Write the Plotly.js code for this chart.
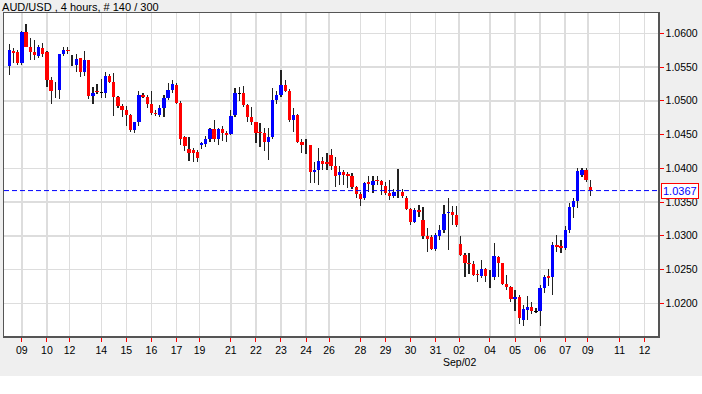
<!DOCTYPE html>
<html>
<head>
<meta charset="utf-8">
<script src="https://cdn.plot.ly/plotly-3.0.1.min.js"></script>
<style>
  html, body { margin: 0; padding: 0; background: #ffffff; }
  #chart { width: 702px; height: 376px; }
</style>
</head>
<body>
<div id="chart"></div>
<script>
// ---- Data (AUD/USD, 4-hour bars) ----
const openP = [
  1.0551,1.0574,1.0573,1.0556,1.0602,1.0580,1.0573,1.0566,1.0578,1.0573,
  1.0531,1.0514,1.0516,1.0569,1.0576,1.0555,1.0553,1.0563,1.0542,1.0561,
  1.0507,1.0514,1.0512,1.0512,1.0537,1.0528,1.0506,1.0492,1.0486,1.0479,
  1.0457,1.0469,1.0509,1.0505,1.0495,1.0482,1.0479,1.0490,1.0504,1.0516,
  1.0523,1.0497,1.0446,1.0428,1.0427,1.0424,1.0434,1.0436,1.0444,1.0458,
  1.0444,1.0458,1.0453,1.0451,1.0479,1.0511,1.0512,1.0494,1.0476,1.0468,
  1.0454,1.0453,1.0439,1.0446,1.0501,1.0509,1.0523,1.0515,1.0472,1.0479,
  1.0439,1.0434,1.0435,1.0394,1.0397,1.0411,1.0410,1.0420,1.0403,1.0390,
  1.0395,1.0392,1.0388,1.0372,1.0362,1.0356,1.0379,1.0376,1.0383,1.0381,
  1.0374,1.0364,1.0359,1.0365,1.0365,1.0356,1.0339,1.0321,1.0338,1.0323,
  1.0300,1.0298,1.0280,1.0300,1.0308,1.0334,1.0335,1.0331,1.0288,1.0272,
  1.0260,1.0258,1.0243,1.0240,1.0251,1.0239,1.0239,1.0268,1.0259,1.0229,
  1.0224,1.0207,1.0210,1.0176,1.0190,1.0194,1.0188,1.0189,1.0222,1.0240,
  1.0239,1.0286,1.0285,1.0282,1.0308,1.0342,1.0352,1.0390,1.0397,1.0372
];
const highP = [
  1.0584,1.0578,1.0576,1.0603,1.0614,1.0593,1.0590,1.0583,1.0585,1.0574,
  1.0536,1.0528,1.0570,1.0579,1.0580,1.0568,1.0569,1.0563,1.0574,1.0561,
  1.0521,1.0525,1.0533,1.0543,1.0540,1.0541,1.0507,1.0495,1.0492,1.0480,
  1.0469,1.0515,1.0512,1.0509,1.0515,1.0486,1.0494,1.0509,1.0526,1.0531,
  1.0526,1.0499,1.0448,1.0447,1.0430,1.0427,1.0439,1.0448,1.0459,1.0471,
  1.0459,1.0462,1.0456,1.0487,1.0519,1.0521,1.0522,1.0496,1.0491,1.0469,
  1.0467,1.0459,1.0459,1.0519,1.0514,1.0546,1.0531,1.0517,1.0489,1.0481,
  1.0443,1.0443,1.0435,1.0410,1.0430,1.0417,1.0422,1.0428,1.0417,1.0403,
  1.0397,1.0395,1.0393,1.0374,1.0365,1.0379,1.0388,1.0389,1.0389,1.0383,
  1.0380,1.0383,1.0370,1.0399,1.0369,1.0359,1.0341,1.0341,1.0346,1.0343,
  1.0311,1.0301,1.0304,1.0316,1.0346,1.0356,1.0344,1.0344,1.0300,1.0275,
  1.0275,1.0262,1.0250,1.0264,1.0252,1.0250,1.0289,1.0270,1.0260,1.0242,
  1.0226,1.0220,1.0212,1.0197,1.0211,1.0202,1.0193,1.0227,1.0242,1.0251,
  1.0291,1.0301,1.0294,1.0314,1.0348,1.0356,1.0400,1.0400,1.0400,1.0383
];
const lowP = [
  1.0538,1.0556,1.0553,1.0553,1.0579,1.0560,1.0560,1.0563,1.0565,1.0521,
  1.0496,1.0504,1.0503,1.0566,1.0570,1.0551,1.0543,1.0536,1.0537,1.0503,
  1.0496,1.0510,1.0504,1.0504,1.0526,1.0478,1.0490,1.0476,1.0463,1.0454,
  1.0452,1.0463,1.0504,1.0490,1.0479,1.0477,1.0476,1.0476,1.0501,1.0511,
  1.0495,1.0435,1.0425,1.0411,1.0410,1.0410,1.0428,1.0431,1.0439,1.0439,
  1.0435,1.0441,1.0439,1.0449,1.0476,1.0499,1.0491,1.0469,1.0464,1.0437,
  1.0432,1.0426,1.0412,1.0444,1.0496,1.0506,1.0513,1.0469,1.0454,1.0437,
  1.0422,1.0421,1.0378,1.0378,1.0375,1.0398,1.0398,1.0398,1.0373,1.0375,
  1.0375,1.0371,1.0370,1.0356,1.0344,1.0353,1.0365,1.0363,1.0375,1.0360,
  1.0360,1.0353,1.0356,1.0356,1.0356,1.0338,1.0316,1.0319,1.0328,1.0296,
  1.0276,1.0279,1.0278,1.0294,1.0304,1.0279,1.0316,1.0313,1.0270,1.0239,
  1.0244,1.0240,1.0231,1.0237,1.0232,1.0222,1.0234,1.0239,1.0227,1.0220,
  1.0202,1.0188,1.0170,1.0166,1.0175,1.0184,1.0185,1.0166,1.0215,1.0226,
  1.0212,1.0276,1.0274,1.0279,1.0304,1.0327,1.0341,1.0387,1.0380,1.0359
];
const closeP = [
  1.0575,1.0571,1.0556,1.0602,1.0580,1.0573,1.0568,1.0579,1.0570,1.0531,
  1.0515,1.0515,1.0570,1.0576,1.0574,1.0554,1.0562,1.0542,1.0561,1.0507,
  1.0512,1.0513,1.0512,1.0537,1.0528,1.0506,1.0492,1.0486,1.0479,1.0457,
  1.0469,1.0509,1.0505,1.0496,1.0482,1.0481,1.0489,1.0504,1.0516,1.0525,
  1.0497,1.0444,1.0433,1.0423,1.0422,1.0415,1.0437,1.0444,1.0458,1.0444,
  1.0458,1.0452,1.0449,1.0477,1.0512,1.0511,1.0494,1.0476,1.0468,1.0452,
  1.0452,1.0439,1.0446,1.0501,1.0509,1.0523,1.0515,1.0472,1.0479,1.0439,
  1.0435,1.0435,1.0395,1.0397,1.0411,1.0407,1.0406,1.0403,1.0389,1.0395,
  1.0390,1.0388,1.0372,1.0362,1.0354,1.0378,1.0377,1.0381,1.0381,1.0375,
  1.0364,1.0359,1.0365,1.0365,1.0359,1.0339,1.0321,1.0338,1.0336,1.0300,
  1.0296,1.0280,1.0301,1.0309,1.0333,1.0335,1.0331,1.0316,1.0272,1.0260,
  1.0258,1.0242,1.0242,1.0251,1.0240,1.0239,1.0270,1.0260,1.0229,1.0224,
  1.0207,1.0210,1.0178,1.0191,1.0194,1.0189,1.0188,1.0222,1.0239,1.0238,
  1.0286,1.0284,1.0282,1.0309,1.0342,1.0352,1.0396,1.0397,1.0382,1.0367
];
const currentPrice = 1.0367;
const tickPositions = [3, 9, 14.4, 22, 28, 34, 40, 45.5, 53, 59, 65, 71, 76.5,
                       84, 90, 96, 102, 107.6, 115, 121, 127, 133, 138.4, 146, 152];
const tickLabels = ['09','10','12','14','15','16','17','19','21','22','23','24','26',
                    '28','29','30','31','02','04','05','06','07','09','11','12'];
const monthLabel = 'Sep/02';
const monthLabelPos = 107.6;
const priceTicks = [1.0200, 1.0250, 1.0300, 1.0350, 1.0400, 1.0450, 1.0500, 1.0550, 1.0600];

// ---- Build traces ----
const n = openP.length;
const idx = [];
const wickBase = [], wickH = [];
const bodyBase = [], bodyH = [], bodyCol = [];
const minH = 0.00011;
for (let i = 0; i < n; i++) {
  idx.push(i);
  wickBase.push(lowP[i]);
  wickH.push(highP[i] - lowP[i]);
  const o = openP[i], c = closeP[i];
  let lo = Math.min(o, c), h = Math.abs(c - o);
  if (h < minH) { lo = (o + c) / 2 - minH / 2; h = minH; }
  bodyBase.push(lo);
  bodyH.push(h);
  bodyCol.push(c > o ? '#0000ff' : (c < o ? '#ff0000' : '#000000'));
}

const wicks = {
  type: 'bar', x: idx, y: wickH, base: wickBase, width: 0.29,
  marker: { color: '#222222', line: { width: 0 } },
  hoverinfo: 'skip', showlegend: false
};
const bodies = {
  type: 'bar', x: idx, y: bodyH, base: bodyBase, width: 0.8,
  marker: { color: bodyCol, line: { width: 0 } },
  hoverinfo: 'skip', showlegend: false
};

const layout = {
  width: 702, height: 376,
  margin: { l: 4, r: 44, t: 13, b: 40 },
  paper_bgcolor: '#efefef',
  plot_bgcolor: '#ffffff',
  showlegend: false,
  hovermode: false,
  barmode: 'overlay',
  bargap: 0,
  title: {
    text: 'AUD/USD , 4 hours, # 140 / 300',
    font: { family: 'Liberation Sans, Arial, sans-serif', size: 11, color: '#000000' },
    xref: 'container', x: 0.003, xanchor: 'left',
    yref: 'container', y: 0.981, yanchor: 'middle'
  },
  xaxis: {
    range: [-1.27, 155.2],
    tickmode: 'array', tickvals: tickPositions, ticktext: tickLabels,
    ticks: 'outside', ticklen: 4, tickcolor: '#ff0000', tickwidth: 1,
    tickfont: { family: 'Liberation Sans, Arial, sans-serif', size: 10.5, color: '#000000' },
    showgrid: true, gridcolor: '#dddddd', gridwidth: 1.5,
    showline: true, linecolor: '#555555', linewidth: 1.5, mirror: true,
    zeroline: false, fixedrange: true
  },
  yaxis: {
    side: 'right',
    range: [1.015155, 1.06301],
    tickmode: 'array', tickvals: priceTicks,
    tickformat: '.4f',
    ticks: 'outside', ticklen: 4, tickcolor: '#ff0000', tickwidth: 1,
    tickfont: { family: 'Liberation Sans, Arial, sans-serif', size: 10.5, color: '#000000' },
    showgrid: true, gridcolor: '#dddddd', gridwidth: 1.5,
    showline: true, linecolor: '#555555', linewidth: 1.5, mirror: true,
    zeroline: false, fixedrange: true
  },
  shapes: [{
    type: 'line', xref: 'paper', x0: 0, x1: 1, yref: 'y', y0: currentPrice, y1: currentPrice,
    line: { color: '#0000ff', width: 1, dash: '5px,3px' }
  }],
  annotations: [
    {
      xref: 'paper', x: 1, xanchor: 'left', xshift: 3,
      yref: 'y', y: currentPrice, yanchor: 'middle',
      text: currentPrice.toFixed(4), showarrow: false,
      font: { family: 'Liberation Sans, Arial, sans-serif', size: 11, color: '#0000ff' },
      bgcolor: '#ffffff', bordercolor: '#ff0000', borderwidth: 1, borderpad: 1
    },
    {
      xref: 'x', x: monthLabelPos, xanchor: 'center',
      yref: 'paper', y: -0.08, yanchor: 'middle',
      text: monthLabel, showarrow: false,
      font: { family: 'Liberation Sans, Arial, sans-serif', size: 10.5, color: '#000000' }
    }
  ]
};

Plotly.newPlot('chart', [wicks, bodies], layout, { displayModeBar: false, staticPlot: true });
</script>
</body>
</html>
